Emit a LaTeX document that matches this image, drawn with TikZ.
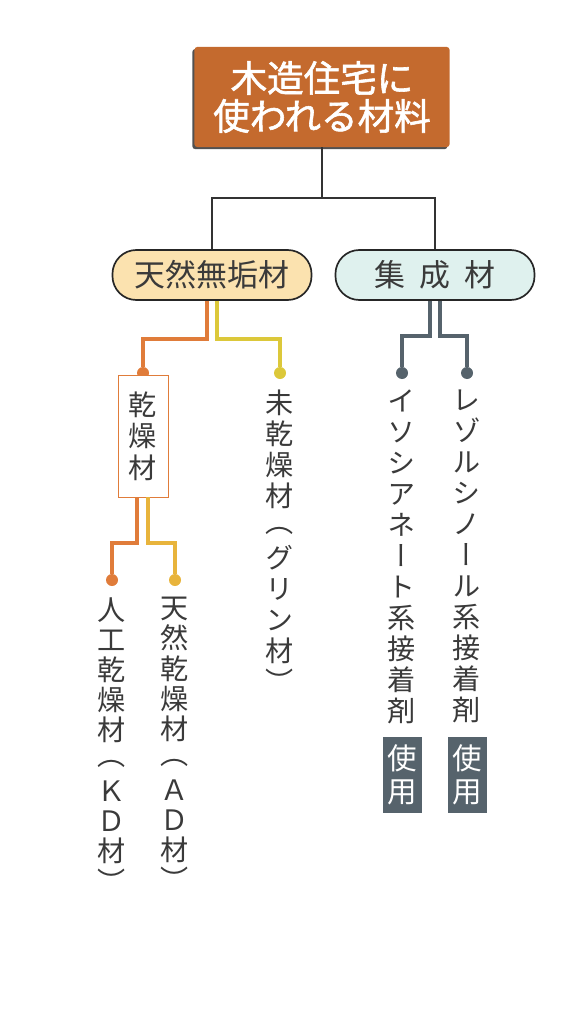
\documentclass[tikz,border=0pt]{standalone}
\usepackage{fontspec}
\newfontfamily\jpfont{Noto Sans CJK JP}
\newfontfamily\jptitle{Noto Sans CJK JP}[FakeBold=1.6]
\newfontfamily\jpvert{Noto Sans CJK JP}[RawFeature={+vert}]
\usetikzlibrary{shadows}
\definecolor{titlebrown}{HTML}{C46A2E}
\definecolor{naturalfill}{HTML}{FBE2AF}
\definecolor{gluefill}{HTML}{DFF1EE}
\definecolor{dryorange}{HTML}{E07C3A}
\definecolor{greenyellow}{HTML}{DCC83A}
\definecolor{adyellow}{HTML}{E8B43C}
\definecolor{usegray}{HTML}{56636C}
\definecolor{inkgray}{HTML}{3A3A3A}
\newcommand{\openp}{\raisebox{0.2em}{（}}

\begin{document}
\begin{tikzpicture}[x=0.025cm,y=-0.025cm,
  title/.style={fill=titlebrown, text=white, rounded corners=2pt, minimum width=6.375cm, minimum height=2.5cm, align=center, font=\jptitle\fontsize{26}{27}\selectfont, drop shadow={shadow xshift=-1.5pt, shadow yshift=-1.5pt, opacity=0.85, fill=black!80}},
  pill/.style={draw=black!85, line width=1.2pt, rounded corners=17pt, minimum width=4.975cm, minimum height=1.25cm, text=inkgray, font=\jpfont\fontsize{22}{24}\selectfont},
  vlabel/.style={anchor=north, align=center, inner sep=0pt, text=inkgray, font=\jpvert\fontsize{20}{#1}\selectfont},
  vlabel/.default=22,
  drybox/.style={draw=dryorange, line width=0.6pt, fill=white, minimum width=1.25cm, minimum height=3.05cm, align=center, text=inkgray, font=\jpvert\fontsize{20}{22.5}\selectfont},
  tag/.style={fill=usegray, text=white, inner sep=0pt, minimum width=0.975cm, minimum height=1.875cm, align=center, font=\jpvert\fontsize{21}{23.5}\selectfont},
  dot/.style={circle, fill=#1, inner sep=0pt, minimum size=0.3cm},
  branch/.style={line width=2.8pt, draw=#1},
  trunk/.style={line width=1.3pt, draw=black!80}]
\useasboundingbox (0,0) rectangle (580,1024);

\node[title] (title) at (322,97) {木造住宅に\\使われる材料};
\node[pill, fill=naturalfill] (natural) at (212,275) {天然無垢材};
\node[pill, fill=gluefill] (glue) at (435,275) {集\hspace{0.45em}成\hspace{0.45em}材};

\node[dot=dryorange] (drydot) at (143,373) {};
\node[dot=greenyellow] (greendot) at (280,373) {};
\node[drybox] (dry) at (143,436) {乾\\燥\\材};
\node[dot=dryorange] (kddot) at (112,580) {};
\node[dot=adyellow] (addot) at (175,580) {};
\node[dot=usegray] (isodot) at (402,373) {};
\node[dot=usegray] (resdot) at (467,373) {};

\node[vlabel=21.5] (kd) at (112,597) {人\\工\\乾\\燥\\材\\\openp\\Ｋ\\Ｄ\\材\\）};
\node[vlabel=21.5] (ad) at (175,597) {天\\然\\乾\\燥\\材\\\openp\\Ａ\\Ｄ\\材\\）};
\node[vlabel] (green) at (280,390) {未\\乾\\燥\\材\\\openp\\グ\\リ\\ン\\材\\）};
\node[vlabel] (iso) at (402,390) {イ\\ソ\\シ\\ア\\ネ\\ー\\ト\\系\\接\\着\\剤};
\node[vlabel] (res) at (467,390) {レ\\ゾ\\ル\\シ\\ノ\\ー\\ル\\系\\接\\着\\剤};
\node[tag] (isouse) at (402,775) {使\\用};
\node[tag] (resuse) at (467,775) {使\\用};

\draw[trunk] (title.south) -- ++(0,51) coordinate (fork);
\draw[trunk] (natural.north) |- (fork) -| (glue.north);
\draw[branch=dryorange] (natural.south) ++(-5,0) -- ++(0,38) -| (drydot);
\draw[branch=greenyellow] (natural.south) ++(5,0) -- ++(0,38) -| (greendot);
\draw[branch=dryorange] (dry.south) ++(-6,0) -- ++(0,46) -| (kddot);
\draw[branch=adyellow] (dry.south) ++(5,0) -- ++(0,46) -| (addot);
\draw[branch=usegray] (glue.south) ++(-5,0) -- ++(0,35) -| (isodot);
\draw[branch=usegray] (glue.south) ++(5,0) -- ++(0,35) -| (resdot);
\end{tikzpicture}
\end{document}
